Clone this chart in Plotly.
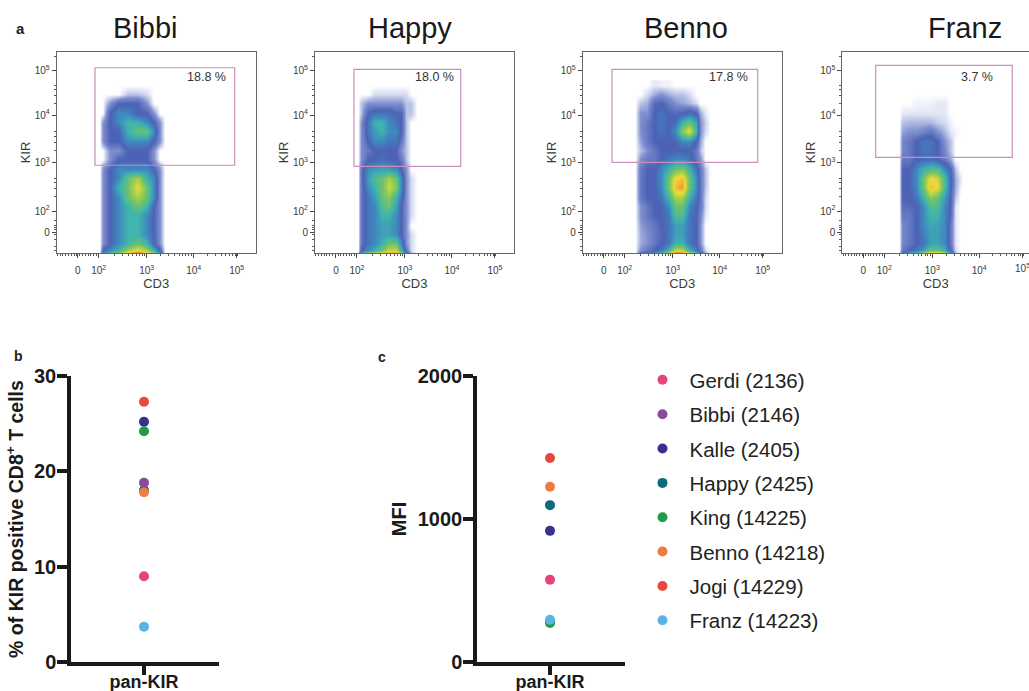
import math
import plotly.graph_objects as go

W, H = 1029, 691

# ---- flow panels: density levels (0 = empty, 9 = hottest)
panel_names = ["Bibbi", "Happy", "Benno", "Franz"]
panel_pcts = ["18.8 %", "18.0 %", "17.8 %", "3.7 %"]
kir_rows = [1.1, 1.15, 1.3, 1.5, 1.7, 1.9, 2.1, 2.3, 2.5, 2.7, 2.9, 3.1, 3.3, 3.5, 3.7, 3.9, 4.1, 4.3, 4.5, 4.7]

bibbi_cd3 = [1.98, 2.05, 2.2, 2.4, 2.6, 2.8, 3.0, 3.15, 3.28, 3.38]
bibbi_density = [
    [0, 3, 5, 6, 8, 9, 8, 6, 3, 0],
    [0, 2, 3, 4, 6, 7, 6, 4, 2, 0],
    [0, 1, 2, 3, 4, 5, 4, 2, 1, 0],
    [0, 1, 2, 3, 4, 4, 3, 2, 1, 0],
    [0, 1, 2, 3, 4, 4, 3, 2, 1, 0],
    [0, 1, 2, 3, 4, 4, 3, 2, 1, 0],
    [0, 1, 2, 3, 4, 5, 4, 2, 1, 0],
    [0, 1, 2, 3, 5, 6, 5, 3, 1, 0],
    [0, 1, 2, 4, 5, 7, 5, 3, 1, 0],
    [0, 1, 2, 3, 5, 6, 4, 3, 1, 0],
    [0, 1, 2, 3, 3, 3, 3, 2, 1, 0],
    [0, 0, 1, 2, 2, 2, 2, 1, 0, 0],
    [0, 0, 1, 1, 2, 2, 2, 1, 0, 0],
    [0, 1, 2, 2, 3, 3, 3, 2, 1, 0],
    [0, 1, 2, 2, 4, 5, 5, 3, 1, 0],
    [0, 1, 2, 3, 4, 4, 3, 2, 1, 0],
    [0, 0, 2, 3, 3, 2, 2, 1, 0, 0],
    [0, 0, 1, 2, 2, 2, 1, 0, 0, 0],
    [0, 0, 0, 0, 0.5, 0.5, 0.3, 0, 0, 0],
    [0, 0, 0, 0, 0, 0, 0, 0, 0, 0],
]

happy_cd3 = [1.98, 2.05, 2.2, 2.35, 2.5, 2.65, 2.8, 2.92, 3.02, 3.13, 3.25]
happy_density = [
    [0, 4, 6, 7, 8, 8.5, 8.5, 6, 3, 0.5, 0],
    [0, 2, 3, 4, 5, 6.5, 6.5, 4, 1.5, 0.3, 0],
    [0, 1.5, 2.5, 3, 4, 5, 5, 3, 1, 0.3, 0],
    [0, 1.5, 2.5, 3, 3.5, 3.5, 3, 2, 1, 0.3, 0],
    [0, 1.5, 2.5, 3, 3.5, 3.5, 3, 2, 1, 0, 0],
    [0, 1.5, 2.5, 3, 4, 4, 3, 2, 1, 0.3, 0],
    [0, 1.5, 2.5, 3, 4.5, 5, 3.5, 2, 1, 0.3, 0],
    [0, 1.5, 2.5, 3.5, 5, 5.5, 4, 2.5, 1, 0.3, 0],
    [0, 1.5, 3, 4, 5, 6.5, 5.5, 3, 1, 0.3, 0],
    [0, 1.5, 3.5, 4.5, 5, 6, 5, 3, 1, 0.3, 0],
    [0, 1.5, 3, 3.5, 3.5, 3.5, 3, 2, 1, 0, 0],
    [0, 1, 2, 2, 2.5, 2, 2, 1.5, 0.5, 0, 0],
    [0, 1, 1.5, 2, 2, 2, 2, 1, 0.5, 0, 0],
    [0, 1, 2, 3, 3, 2.5, 2.5, 1.5, 0.5, 0, 0],
    [0, 1, 2.5, 3.5, 4, 3, 3, 2, 0.5, 0, 0],
    [0, 1, 2.5, 4, 4, 3, 2.5, 2, 0.5, 0, 0],
    [0, 0.5, 2, 2.5, 2.5, 2.5, 2, 2, 0.5, 0.5, 0],
    [0, 0.5, 1, 1, 1, 1, 1, 1, 0.5, 0.5, 0],
    [0, 0, 0, 0.3, 0.3, 0.3, 0.3, 0.3, 0.3, 0, 0],
    [0, 0, 0, 0, 0, 0, 0, 0, 0, 0, 0],
]

benno_cd3 = [2.2, 2.3, 2.45, 2.6, 2.75, 2.9, 3.05, 3.2, 3.35, 3.5, 3.6, 3.7, 3.8]
benno_density = [
    [0, 2, 3, 3.5, 5, 7, 9, 9, 7, 5, 3, 0.7, 0],
    [0, 1, 1.5, 2, 2.5, 4, 6.5, 6.5, 4, 2.5, 1.5, 0.3, 0],
    [0, 0.7, 1, 1.5, 2, 2.5, 4, 4, 2.5, 2, 1, 0, 0],
    [0, 0.7, 1, 1.5, 1.8, 2.5, 3.5, 3.5, 2.5, 2, 1, 0, 0],
    [0, 0.8, 1.2, 1.5, 2, 2.5, 3.5, 3.5, 2.5, 2, 1, 0, 0],
    [0, 1, 1.5, 2, 2, 2.5, 4.5, 4.5, 2.5, 2, 1.2, 0.2, 0],
    [0, 1, 1.5, 2, 2, 3, 5, 5, 3, 2, 1.5, 0.3, 0],
    [0, 1.5, 2, 2, 2.5, 4, 6, 6, 4, 2.5, 1.5, 0.3, 0],
    [0, 1.5, 2, 2, 3, 5, 7.5, 8, 5, 3, 1.5, 0.5, 0],
    [0, 1.5, 2, 2, 3, 5, 7, 7.5, 5, 3, 1.5, 0.5, 0],
    [0, 1.5, 2, 2, 3, 4, 5, 5.5, 4, 2.5, 1.5, 0.5, 0],
    [0, 1, 1.5, 1.5, 2, 2.5, 3, 3, 2.5, 1.5, 1, 0, 0],
    [0, 0.5, 1, 1.5, 2, 2, 2, 2, 2, 1.5, 0.5, 0, 0],
    [0, 0.8, 1.5, 2, 2, 2, 2, 3, 3, 2, 0.8, 0, 0],
    [0, 1, 1.5, 2, 2.5, 2, 3, 5.5, 7, 4, 1, 0.3, 0],
    [0, 1, 1.5, 2, 2.5, 2, 2.3, 4, 5, 3.5, 1, 0.4, 0],
    [0, 1, 1, 2, 2.5, 2, 1.8, 2, 2.5, 2, 0.7, 0.2, 0],
    [0, 0.5, 0.7, 1.8, 2, 1.5, 1, 0.8, 0.6, 0.3, 0, 0, 0],
    [0, 0, 0.3, 0.7, 1, 0.7, 0.5, 0.5, 0.3, 0, 0, 0, 0],
    [0, 0, 0, 0.2, 0.1, 0.1, 0, 0, 0, 0, 0, 0, 0],
]

franz_cd3 = [2.28, 2.35, 2.5, 2.65, 2.8, 2.95, 3.1, 3.25, 3.38, 3.5, 3.6]
franz_density = [
    [0, 3, 4, 5, 7, 8.5, 8.5, 7, 4, 0.5, 0],
    [0, 1.5, 2, 2.5, 3.5, 5, 5, 4, 2, 0.3, 0],
    [0, 1.2, 1.5, 2, 2.5, 3.5, 3.5, 3, 1.5, 0.2, 0],
    [0, 1.2, 1.5, 2, 2.7, 3.5, 3.5, 3, 1.5, 0.2, 0],
    [0, 1.2, 1.5, 2, 3, 3.7, 3.5, 3, 1.5, 0.2, 0],
    [0, 1.5, 1.5, 2, 3, 4, 4, 3, 1.8, 0.2, 0],
    [0, 1.7, 1.8, 2, 3, 4.5, 4.5, 3, 2, 0.2, 0],
    [0, 2, 2, 2.5, 4, 5.5, 5, 3.5, 2, 0.5, 0],
    [0, 2, 2, 3, 5, 7.5, 7, 4.5, 2.3, 0.7, 0.1],
    [0, 2, 2, 3, 5, 7, 6.5, 4.5, 2.3, 0.7, 0.2],
    [0, 2, 2, 3, 4, 4.5, 4.5, 3, 2, 0.5, 0],
    [0, 1.5, 1.5, 2, 2.2, 2.3, 2, 1.5, 0.8, 0, 0],
    [0, 1.2, 1.5, 2, 2.5, 2.5, 2, 1.2, 0.5, 0, 0],
    [0, 1.2, 1.5, 2, 2.5, 2.5, 2, 1, 0.5, 0, 0],
    [0, 0.8, 1, 1, 1.2, 1.5, 1, 0.6, 0.2, 0.1, 0],
    [0, 0.5, 0.6, 0.6, 0.6, 0.6, 0.4, 0.3, 0.1, 0, 0],
    [0, 0.2, 0.2, 0.2, 0.2, 0.2, 0.2, 0.2, 0, 0, 0],
    [0, 0, 0, 0.1, 0.1, 0.1, 0.2, 0.2, 0, 0, 0],
    [0, 0, 0, 0, 0, 0, 0, 0, 0, 0, 0],
    [0, 0, 0, 0, 0, 0, 0, 0, 0, 0, 0],
]

panel_cd3 = [bibbi_cd3, happy_cd3, benno_cd3, franz_cd3]
panel_density = [bibbi_density, happy_density, benno_density, franz_density]

# gates in axis units
gate_x0 = [1.888, 1.903, 1.695, 1.783]
gate_x1 = [4.892, 4.198, 4.828, 4.72]
gate_y0 = [2.98, 2.958, 3.044, 3.15]
gate_y1 = [5.07, 5.036, 5.036, 5.122]

x_tick_units = [1.516, 1.968, 3.0, 4.01, 4.935]
y_tick_units = [1.55, 2.0, 3.029, 4.057, 5.0]
x_tick_text = ["0", "10<sup>2</sup>", "10<sup>3</sup>", "10<sup>4</sup>", "10<sup>5</sup>"]
y_tick_text = ["0", "10<sup>2</sup>", "10<sup>3</sup>", "10<sup>4</sup>", "10<sup>5</sup>"]

# ---- scatter panels
donors = ["Gerdi (2136)", "Bibbi (2146)", "Kalle (2405)", "Happy (2425)",
          "King (14225)", "Benno (14218)", "Jogi (14229)", "Franz (14223)"]
colors = ["#e6427f", "#8a4a9b", "#37308c", "#0a6b7c", "#1f9b4b", "#ee7b3f", "#e6483d", "#5cb3e6"]
pct_kir = [9.0, 18.8, 25.2, 18.0, 24.2, 17.8, 27.3, 3.7]
mfi = [576, 285, 917, 1097, 273, 1225, 1426, 296]

density_scale = [[0, "#ffffff"], [0.5/9, "#b9c3e6"], [1/9, "#7f8fd0"], [2/9, "#4d62b5"], [3/9, "#3f8ac0"],
                 [4/9, "#3fb5ad"], [5/9, "#6cc070"], [6/9, "#a8d24a"], [7/9, "#f0dc3a"],
                 [8/9, "#f59a2e"], [1, "#e8432a"]]

FONT = "Liberation Sans"
TXT = "#3a3a3a"
GATE = "#c98fbb"

def px(x): return x / W
def py(y): return 1 - y / H

x_minor = sorted({round(d + math.log10(k), 3) for d in (2, 3, 4) for k in range(2, 10)}
                 | {round(1.08 + 0.06 * i, 3) for i in range(15)})
y_minor = sorted({round(d + math.log10(k), 3) for d in (2, 3, 4, 5) for k in range(2, 6)}
                 | {1.15, 1.25, 1.4, 1.5, 1.6, 1.65, 1.7, 1.8})

fig = go.Figure()
layout = dict(
    width=W, height=H, margin=dict(l=0, r=0, t=0, b=0, autoexpand=False), autosize=False,
    paper_bgcolor="white", plot_bgcolor="white", font=dict(family=FONT, color="#222"),
)
annotations, shapes = [], []

panel_left = [56.7, 315.0, 582.7, 842.3]
title_cx = [145, 410, 686, 965]
pct_x = [4.29, 3.635, 4.19, 3.96]

for i, name in enumerate(panel_names):
    n = i + 1
    xa, ya = f"x{n}", f"y{n}"
    left = panel_left[i]
    right = min(left + 199, W)
    xmax = 3 + (right - left - 90) / 46.5
    fig.add_trace(go.Heatmap(
        x=panel_cd3[i], y=kir_rows, z=panel_density[i], xaxis=xa, yaxis=ya,
        zmin=0, zmax=9, zsmooth="best", colorscale=density_scale, showscale=False,
        hoverinfo="skip"))
    layout[f"xaxis{n}"] = dict(
        domain=[px(left), px(right)], range=[1.065, xmax], anchor=ya, showgrid=False, zeroline=False,
        showline=True, linecolor="#666", linewidth=1, mirror=True,
        tickmode="array", tickvals=x_tick_units, ticktext=x_tick_text, ticks="outside", ticklen=4,
        ticklabelstandoff=4,
        tickcolor="#444", tickwidth=1, tickfont=dict(size=10, color=TXT, family=FONT),
        minor=dict(tickmode="array", tickvals=x_minor, ticks="outside", ticklen=2, tickcolor="#555"),
        title=dict(text="CD3", font=dict(size=13, color=TXT, family=FONT), standoff=1))
    layout[f"yaxis{n}"] = dict(
        domain=[py(253), py(52)], range=[1.1, 5.407], anchor=xa, showgrid=False, zeroline=False,
        showline=True, linecolor="#666", linewidth=1, mirror=(i != 3),
        tickmode="array", tickvals=y_tick_units, ticktext=y_tick_text, ticks="outside", ticklen=4,
        tickcolor="#444", tickwidth=1, tickfont=dict(size=10, color=TXT, family=FONT),
        minor=dict(tickmode="array", tickvals=y_minor, ticks="outside", ticklen=2, tickcolor="#555"),
        title=dict(text="KIR", font=dict(size=13, color=TXT, family=FONT), standoff=1))
    shapes.append(dict(type="rect", xref=xa, yref=ya, x0=gate_x0[i], x1=gate_x1[i], y0=gate_y0[i], y1=gate_y1[i],
                       line=dict(color=GATE, width=1.2), layer="above"))
    annotations.append(dict(x=pct_x[i], y=4.87, xref=xa, yref=ya, text=panel_pcts[i], showarrow=False,
                            font=dict(size=12.5, color="#333", family=FONT)))
    annotations.append(dict(x=px(title_cx[i]), y=py(28), xref="paper", yref="paper", xanchor="center", yanchor="middle",
                            text=name, showarrow=False, font=dict(size=29, color="#1a1a1a", family=FONT)))

# the last CD3 tick label of the Franz panel runs off the page edge, as in the reference
annotations.append(dict(x=px(1022), y=py(268), xref="paper", yref="paper", xanchor="center", yanchor="middle",
                        text=x_tick_text[-1], showarrow=False, font=dict(size=10, color=TXT, family=FONT)))

# panel letters
for letter, x, y, s in (("a", 20, 29, 15), ("b", 18, 356, 14), ("c", 382, 357, 14)):
    annotations.append(dict(x=px(x), y=py(y), xref="paper", yref="paper", xanchor="center", yanchor="middle",
                            text=f"<b>{letter}</b>", showarrow=False, font=dict(size=s, color="#222", family=FONT)))

# scatter panels: draw order keeps the overlaps of the picture, legendrank keeps the legend order
draw_order_b = [0, 3, 1, 2, 4, 5, 6, 7]
for j in draw_order_b:
    fig.add_trace(go.Scatter(
        x=[0], y=[pct_kir[j]], xaxis="x5", yaxis="y5", mode="markers", name=donors[j],
        marker=dict(size=10, color=colors[j]), legendgroup=donors[j], legendrank=j + 1, showlegend=True))
for j in range(8):
    fig.add_trace(go.Scatter(
        x=[0], y=[mfi[j]], xaxis="x6", yaxis="y6", mode="markers", name=donors[j],
        marker=dict(size=10, color=colors[j]), legendgroup=donors[j], showlegend=False))

for n, x0, x1, cx, ymax, dtick, title, tsize, sd in (
        (5, 71, 219, 144, 30, 10, "% of KIR positive CD8<sup>+</sup> T cells\u00a0\u00a0\u00a0", 19.5, 6),
        (6, 477, 625, 550, 2000, 1000, "MFI", 20, 7)):
    layout[f"xaxis{n}"] = dict(
        domain=[px(x0), px(x1)], range=[x0 - cx, x1 - cx], anchor=f"y{n}", showgrid=False, zeroline=False,
        showline=True, linecolor="#1a1a1a", linewidth=3.5,
        tickmode="array", tickvals=[0], ticktext=["pan-KIR"], ticks="outside", ticklen=9, tickwidth=3.5,
        ticklabelstandoff=-8,
        tickcolor="#1a1a1a", tickfont=dict(size=18, family=FONT, color="#1a1a1a", weight="bold"))
    layout[f"yaxis{n}"] = dict(
        domain=[py(662), py(376)], range=[0, ymax], anchor=f"x{n}", showgrid=False, zeroline=False,
        showline=True, linecolor="#1a1a1a", linewidth=3.5,
        tickmode="array", tickvals=list(range(0, ymax + 1, dtick)), ticks="outside", ticklen=10, tickwidth=3.5,
        ticklabelstandoff=-3,
        tickcolor="#1a1a1a", tickfont=dict(size=20, family=FONT, color="#1a1a1a", weight="bold"),
        title=dict(text=title, font=dict(size=tsize, family=FONT, color="#1a1a1a", weight="bold"), standoff=sd))

layout["legend"] = dict(
    x=px(635.5), y=py(360), xanchor="left", yanchor="top", font=dict(size=20.5, color="#222", family=FONT),
    itemwidth=44, tracegroupgap=4.7, itemclick=False, itemdoubleclick=False, bgcolor="rgba(0,0,0,0)",
    traceorder="grouped")
layout["annotations"] = annotations
layout["shapes"] = shapes
fig.update_layout(**layout)

fig.write_html("out.html", config={"displayModeBar": False},
               post_script="document.body.style.margin='0';document.body.style.overflow='hidden';")
